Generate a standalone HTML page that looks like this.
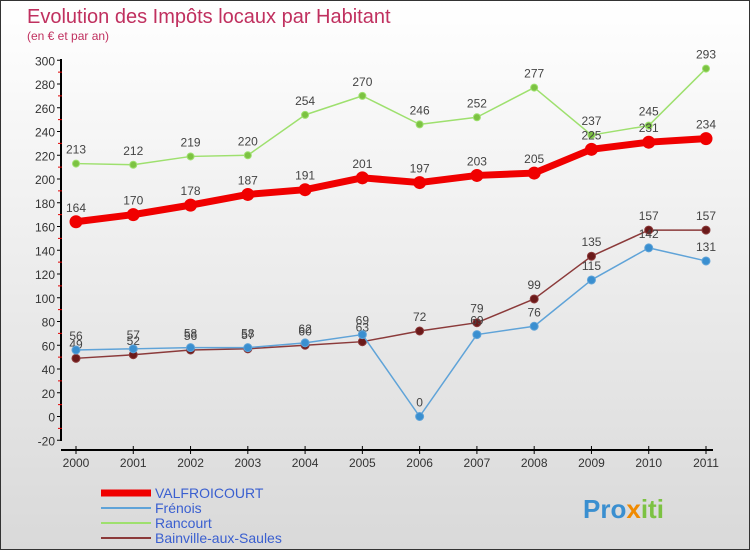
<!DOCTYPE html>
<html><head><meta charset="utf-8"><style>
body{margin:0;width:750px;height:550px;overflow:hidden;font-family:"Liberation Sans",sans-serif}
#wrap{position:relative;width:748px;height:548px;border:1px solid #333;background:linear-gradient(#ffffff,#d9d9d9)}
svg text{font-family:"Liberation Sans",sans-serif}
</style></head><body>
<div id="wrap">
<svg id="chart" width="748" height="548">
<text x="26" y="22" font-size="20" fill="#c0305f">Evolution des Impôts locaux par Habitant</text>
<text x="26" y="39" font-size="12" fill="#c0305f">(en € et par an)</text>
<g id="axes"></g><g id="series"></g><g id="legend"></g>
<text x="582" y="517" font-size="26" font-weight="bold" fill="#3a8fd0">Pro<tspan fill="#f08a00">x</tspan><tspan fill="#7cc242">iti</tspan></text>
</svg></div>
<script>
const years=[2000,2001,2002,2003,2004,2005,2006,2007,2008,2009,2010,2011];
const yTicks=[-20,0,20,40,60,80,100,120,140,160,180,200,220,240,260,280,300];
const valfroicourt=[164,170,178,187,191,201,197,203,205,225,231,234];
const frenois=[56,57,58,58,62,69,0,69,76,115,142,131];
const rancourt=[213,212,219,220,254,270,246,252,277,237,245,293];
const bainville=[49,52,56,57,60,63,72,79,99,135,157,157];
const NS="http://www.w3.org/2000/svg";
const X=i=>75+i*(630/11);
const Y=v=>415.5-v*1.1875;
function mk(t,a,p){const e=document.createElementNS(NS,t);for(const k in a)e.setAttribute(k,a[k]);p.appendChild(e);return e;}
const ax=document.getElementById('axes');
let l=mk('line',{x1:60,y1:58,x2:60,y2:440,stroke:'#000','stroke-width':2},ax);


l=mk('line',{x1:60,y1:449,x2:712,y2:449,stroke:'#000','stroke-width':2},ax);


yTicks.forEach(v=>{
 mk('line',{x1:56,y1:Y(v),x2:61,y2:Y(v),stroke:'#000'},ax);
 if(v<300) mk('line',{x1:57,y1:Y(v+10),x2:61,y2:Y(v+10),stroke:'#e00000'},ax);
 const t=mk('text',{x:54,y:Y(v)+5,'font-size':12,'text-anchor':'end',fill:'#333'},ax);t.textContent=v;
 
 
});
years.forEach((yr,i)=>{
 mk('line',{x1:X(i),y1:445,x2:X(i),y2:453,stroke:'#000'},ax);
 const t=mk('text',{x:X(i),y:466,'font-size':12,'text-anchor':'middle',fill:'#333'},ax);t.textContent=yr;
 
 
});
const sg=document.getElementById('series');
function series(data,color,dot,w,r,name){
 const g=mk('g',{},sg);
 
 
 const p=mk('polyline',{points:data.map((v,i)=>X(i)+','+Y(v)).join(' '),fill:'none',stroke:color,'stroke-width':w,'stroke-linejoin':'round'},g);
 
 
 data.forEach((v,i)=>{
  const c=mk('circle',{cx:X(i),cy:Y(v),r:r,fill:dot,stroke:color,'stroke-width':1},g);
  
  
  const t=mk('text',{x:X(i),y:Y(v)-10,'font-size':12,'text-anchor':'middle',fill:'#444'},g);t.textContent=v;
  
  
 });
}
series(rancourt,'#9ee06e','#7cc242',1.5,3.5,'rancourt');
series(bainville,'#8b3a3a','#6b1a1a',1.5,4,'bainville');
series(frenois,'#5fa3d8','#3a8fd0',1.5,4,'frenois');
series(valfroicourt,'#f00000','#f00000',7,6,'valfroicourt');
const lg=document.getElementById('legend');
[['VALFROICOURT','#f00000',7],['Frénois','#5fa3d8',2],['Rancourt','#9ee06e',2],['Bainville-aux-Saules','#8b3a3a',2]].forEach((d,i)=>{
 const y=492+i*15;
 const ln=mk('line',{x1:100,y1:y,x2:150,y2:y,stroke:d[1],'stroke-width':d[2]},lg);
 
 
 const t=mk('text',{x:154,y:y+5,'font-size':14,fill:'#3a5fd0'},lg);t.textContent=d[0];
 
 
});
</script>
</body></html>
